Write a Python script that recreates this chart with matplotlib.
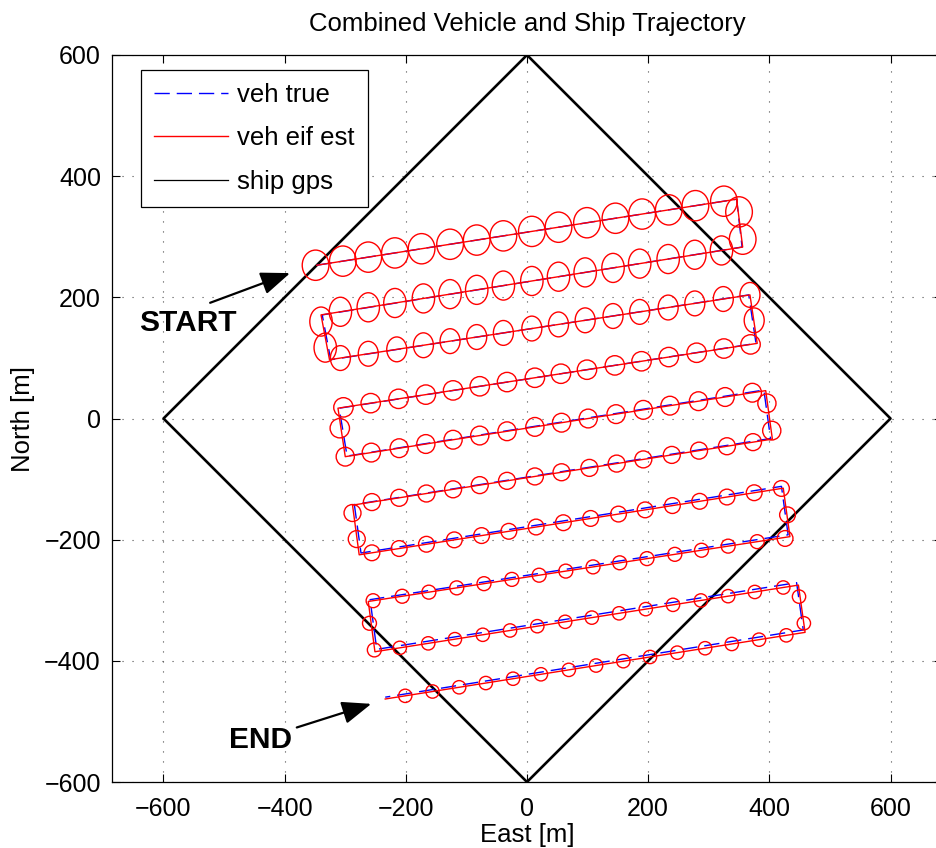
import numpy as np
import matplotlib
matplotlib.use('Agg')
import matplotlib.pyplot as plt
from matplotlib.patches import Ellipse
from matplotlib.lines import Line2D

plt.rcParams['font.family'] = ['Liberation Sans', 'DejaVu Sans']

# ---------------- data ----------------
ship_x = [0, 600, 0, -600, 0]
ship_y = [600, 0, -600, 0, 600]

# estimated vehicle path waypoints (start/end of each survey row)
est_x = [-347, 346, 356, -340, -326, 368, 380, -312, -300, 394,
         405, -288, -277, 423, 434, -262, -251, 448, 459, -234]
est_y = [253, 362, 283, 171, 97, 204, 124, 17, -63, 46,
         -34, -143, -225, -115, -195, -302, -385, -275, -353, -463]

# true vehicle path waypoints
true_x = [-347, 346, 355, -338, -324, 366, 378, -310, -297, 391,
          402, -285, -274, 420, 431, -259, -248, 445, 456, -234]
true_y = [253, 362, 283, 171, 97, 204, 124, 17, -62, 47,
          -33, -142, -222, -112, -192, -299, -381, -271, -349, -460]

# covariance ellipse centres along each row (east coordinate)
row_ell_x = [
    [-349, -304, -262, -218, -174, -127, -83, -39, 8, 52, 99, 146, 190, 234, 278, 325],
    [321, 277, 233, 186, 142, 96, 52, 8, -39, -83, -127, -171, -218, -262, -308],
    [-308, -262, -215, -171, -127, -83, -39, 8, 52, 96, 142, 186, 233, 277, 324, 368],
    [369, 325, 280, 234, 189, 145, 99, 56, 13, -33, -78, -122, -167, -212, -258, -303],
    [-300, -257, -211, -167, -122, -78, -33, 13, 57, 101, 147, 192, 236, 283, 327, 372],
    [373, 330, 284, 239, 192, 148, 103, 57, 13, -33, -78, -122, -166, -211, -256],
    [-256, -211, -166, -120, -75, -30, 15, 60, 105, 151, 195, 240, 285, 330, 375, 420],
    [380, 332, 288, 244, 198, 153, 109, 64, 20, -25, -71, -116, -162, -206, -254],
    [-210, -163, -119, -73, -28, 17, 63, 107, 152, 196, 241, 287, 332, 376, 423],
    [428, 383, 338, 294, 248, 203, 159, 114, 69, 23, -23, -68, -112, -156, -201],
]
# ellipse centres on the turns after each row (east, north)
turn_ell_x = [[350, 356], [-340, -333], [375], [-309], [396, 404],
              [-288, -281], [430, 426], [-260, -252], [449, 457], []]
turn_ell_y = [[341, 296], [160, 117], [162], [-16], [25, -20],
              [-156, -199], [-159, -198], [-338, -382], [-294, -338], []]
# ellipse full width / height per row [m]
row_w = [44, 37, 33, 32, 30, 28, 26, 23, 22, 22]
row_h = [50, 48, 41, 32, 31, 28, 26, 23, 22, 22]

# ---------------- figure ----------------
W, H = 937, 848
fig = plt.figure(figsize=(W / 100, H / 100), dpi=100)
ax = fig.add_axes([112 / W, (H - 782) / H, 830 / W, 727 / H])

ax.plot(ship_x, ship_y, color='k', lw=1.9, zorder=2)
ax.plot(true_x, true_y, color='b', lw=1.0, dashes=(11, 5), zorder=3)
ax.plot(est_x, est_y, color='r', lw=1.0, zorder=4)

for i, xs in enumerate(row_ell_x):
    x0, x1 = est_x[2 * i], est_x[2 * i + 1]
    y0, y1 = est_y[2 * i], est_y[2 * i + 1]
    if x0 < x1:
        ys = np.interp(xs, [x0, x1], [y0, y1])
    else:
        ys = np.interp(xs, [x1, x0], [y1, y0])
    cx = list(xs) + turn_ell_x[i]
    cy = list(ys) + turn_ell_y[i]
    for ex, ey in zip(cx, cy):
        ax.add_patch(Ellipse((ex, ey), row_w[i], row_h[i], fill=False,
                             edgecolor='r', lw=1.0, zorder=5))

ax.set_xlim(-685, 685)
ax.set_ylim(-600, 600)
ax.set_xticks([-600, -400, -200, 0, 200, 400, 600])
ax.set_yticks([-600, -400, -200, 0, 200, 400, 600])
ax.tick_params(direction='in', length=6, width=0.8, top=True, right=True,
               labelsize=18)
ax.tick_params(axis='x', pad=11)
ax.tick_params(axis='y', pad=8)
for s in ax.spines.values():
    s.set_linewidth(0.9)
ax.grid(True, linestyle=(0, (1, 8)), color='0.3', linewidth=0.8)
ax.set_axisbelow(True)

ax.set_title('Combined Vehicle and Ship Trajectory', fontsize=18.5, pad=17)
ax.set_xlabel('East [m]', fontsize=18.5, labelpad=1)
ax.set_ylabel('North [m]', fontsize=18.5, labelpad=7)

ax.annotate('', xy=(-391, 240), xytext=(-523, 191),
            arrowprops=dict(arrowstyle='-|>,head_length=0.9,head_width=0.35',
                            color='k', lw=1.6, mutation_scale=20, shrinkA=0, shrinkB=0))
ax.text(-560, 158, 'START', fontsize=21.5, fontweight='bold', ha='center', va='center')
ax.annotate('', xy=(-257, -471), xytext=(-380, -510),
            arrowprops=dict(arrowstyle='-|>,head_length=0.9,head_width=0.35',
                            color='k', lw=1.6, mutation_scale=20, shrinkA=0, shrinkB=0))
ax.text(-440, -530, 'END', fontsize=21.5, fontweight='bold', ha='center', va='center')

handles = [Line2D([], [], color='b', lw=1.0, dashes=(11, 5)),
           Line2D([], [], color='r', lw=1.0),
           Line2D([], [], color='k', lw=0.9)]
leg = ax.legend(handles, ['veh true', 'veh eif est', 'ship gps'],
                loc='upper left', bbox_to_anchor=(0.035, 0.979), borderaxespad=0,
                fontsize=18.5, frameon=True, fancybox=False, edgecolor='k',
                framealpha=1, handlelength=2.9, handletextpad=0.35,
                labelspacing=0.75, borderpad=0.5)
leg.get_frame().set_linewidth(0.9)

fig.savefig('out.png', dpi=100)
